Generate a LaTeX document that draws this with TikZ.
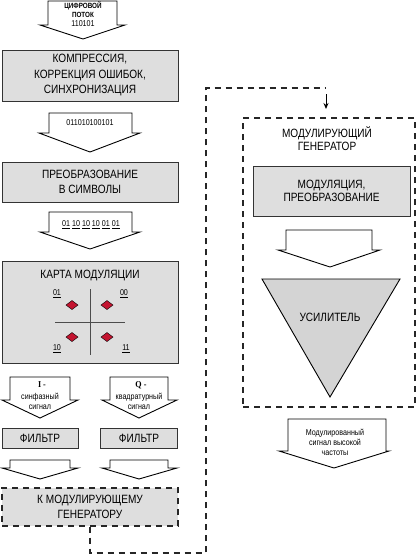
\documentclass[tikz,border=0pt]{standalone}
\usepackage{fontspec}
\setmainfont{Liberation Sans}[FakeStretch=0.84]
\newfontfamily\serifbold{Liberation Serif}[FakeStretch=0.9]
\usetikzlibrary{arrows.meta}
\definecolor{boxgray}{RGB}{222,222,222}
\definecolor{trigray}{RGB}{212,212,212}
\definecolor{dred}{RGB}{196,20,48}
\newcommand\blockarr[8]{%
  \draw[barrow] (#1,#5) -- (#1,#6) -- (#3,#6) -- (#7,#8) -- (#4,#6) -- (#2,#6) -- (#2,#5) -- cycle;}
\newcommand\ulx[1]{\underline{#1}}
\begin{document}
\begin{tikzpicture}[x=1pt,y=-1pt,
  boxs/.style={draw=black!80, line width=1pt, fill=boxgray, align=center, inner sep=0pt,
    font=\fontsize{12}{15.5}\selectfont},
  barrow/.style={draw=black, line width=0.9pt, fill=white, line join=miter},
  dashb/.style={draw=black!85, line width=1.2pt, dash pattern=on 6pt off 5pt},
  lbl/.style={align=center, inner sep=0pt},
  small/.style={lbl, font=\fontsize{8.5}{10}\selectfont},
  dmd/.style={draw=black, line width=0.4pt, fill=dred},
  axis/.style={draw=black!70, line width=0.9pt}]
\useasboundingbox (0,0) rectangle (420,558);

% ---- top arrow
\blockarr{48}{117}{40}{125}{1}{25}{83}{39}
\node[lbl, font=\bfseries\fontsize{7.5}{9}\selectfont] (t1) at (83,10) {ЦИФРОВОЙ\\ПОТОК};
\node[small, font=\fontsize{8.5}{10}\selectfont] (t2) at (83,24) {110101};

% ---- box 1
\node[boxs, minimum width=176, minimum height=51] (b1) at (90,75.5)
  {КОМПРЕССИЯ,\\КОРРЕКЦИЯ ОШИБОК,\\СИНХРОНИЗАЦИЯ};

% ---- arrow 2
\blockarr{49}{132}{39}{140}{113}{133}{90}{152}
\node[small] (a2) at (90,123) {011010100101};

% ---- box 2
\node[boxs, minimum width=176, minimum height=40] (b2) at (90,182)
  {ПРЕОБРАЗОВАНИЕ\\В СИМВОЛЫ};

% ---- arrow 3
\blockarr{49}{132}{40}{140}{212}{232}{90}{249}
\node[small] (a3) at (91,225) {\ulx{01} \ulx{10} \ulx{10} \ulx{10} \ulx{01} \ulx{01}};

% ---- modulation map
\node[boxs, minimum width=176, minimum height=102] (map) at (90,312) {};
\node[lbl, font=\fontsize{12}{14}\selectfont] (mapt) at (90,275) {КАРТА МОДУЛЯЦИИ};
\coordinate (vt) at (90,289); \coordinate (vb) at (90,355);
\coordinate (hl) at (55,322); \coordinate (hr) at (125,322);
\draw[axis] (vt) -- (vb);
\draw[axis] (hl) -- (hr);
\draw[dmd] (72,300.5) -- (78,305) -- (72,309.5) -- (66,305) -- cycle;
\draw[dmd] (107,300.5) -- (113,305) -- (107,309.5) -- (101,305) -- cycle;
\draw[dmd] (72,332.5) -- (78,337) -- (72,341.5) -- (66,337) -- cycle;
\draw[dmd] (107,332.5) -- (113,337) -- (107,341.5) -- (101,337) -- cycle;
\node[small] (l01) at (57,294) {\ulx{01}};
\node[small] (l00) at (124,294) {\ulx{00}};
\node[small] (l10) at (57,349) {\ulx{10}};
\node[small] (l11) at (126,349) {\ulx{11}};

% ---- I / Q arrows
\blockarr{10}{70}{2}{78}{377}{400}{40}{418}
\node[lbl, font=\serifbold\bfseries\fontsize{9}{10}\selectfont] (ia) at (42,385) {I -};
\node[small] (ib) at (40,401) {синфазный\\сигнал};
\blockarr{110}{168}{102}{177}{377}{400}{139}{418}
\node[lbl, font=\serifbold\bfseries\fontsize{9}{10}\selectfont] (qa) at (141,385) {Q -};
\node[small] (qb) at (139,401) {квадратурный\\сигнал};

% ---- filters
\node[boxs, minimum width=76, minimum height=20] (f1) at (40,438) {ФИЛЬТР};
\node[boxs, minimum width=77, minimum height=20] (f2) at (139,438) {ФИЛЬТР};

% ---- arrows under filters
\blockarr{10}{70}{2}{78}{460}{468}{40}{479}
\blockarr{110}{168}{102}{177}{460}{468}{139}{479}

% ---- to modulating generator
\node[boxs, dashb, minimum width=176, minimum height=38] (kmg) at (90,507)
  {К МОДУЛИРУЮЩЕМУ\\ГЕНЕРАТОРУ};

% ---- generator block
\node[dashb, draw, minimum width=172, minimum height=289, inner sep=0] (gen) at (329,262.5) {};
\node[lbl, font=\fontsize{12}{13.5}\selectfont] (gent) at (327,138.5) {МОДУЛИРУЮЩИЙ\\ГЕНЕРАТОР};
\node[boxs, minimum width=157, minimum height=50, font=\fontsize{12}{13.5}\selectfont] (modb) at (331.5,191)
  {МОДУЛЯЦИЯ,\\ПРЕОБРАЗОВАНИЕ};
\blockarr{286}{372}{278}{380}{230}{250}{330}{267}
\draw[draw=black, line width=0.9pt, fill=trigray, line join=miter] (262,279) -- (400,279) -- (330,397) -- cycle;
\node[lbl, font=\fontsize{12}{14}\selectfont] (amp) at (330,317) {УСИЛИТЕЛЬ};

% ---- output arrow
\blockarr{288}{386}{279}{389}{419}{451}{334}{468}
\node[small] (out) at (335,442) {Модулированный\\сигнал высокой\\частоты};

% ---- dashed connector
\coordinate (c1) at (90,553);
\coordinate (c2) at (206,553);
\coordinate (c3) at (206,88);
\coordinate (c4) at (325,88);
\coordinate (c5) at (326,94);
\coordinate (c6) at (326,109);
\draw[dashb] (kmg.south) -- (c1) -- (c2) -- (c3) -- (c4);
\draw[line width=1pt, -{Stealth[length=6pt,width=5pt]}] (c5) -- (c6);
\end{tikzpicture}
\end{document}
